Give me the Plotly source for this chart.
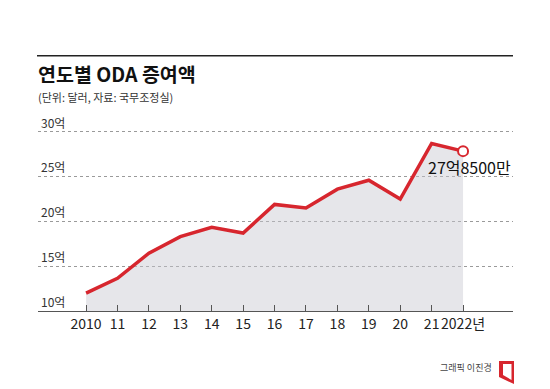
import plotly.graph_objects as go

# ---- data ----
years = [2010, 2011, 2012, 2013, 2014, 2015, 2016, 2017, 2018, 2019, 2020, 2021, 2022]
oda_eok = [12.0, 13.65, 16.45, 18.3, 19.35, 18.7, 21.9, 21.5, 23.6, 24.6, 22.5, 28.7, 27.85]
x_tick_labels = ["2010", "11", "12", "13", "14", "15", "16", "17", "18", "19", "20", "21", "2022년"]
y_tick_vals = [10, 15, 20, 25, 30]
y_tick_labels = ["10억", "15억", "20억", "25억", "30억"]

title_text = "연도별 ODA 증여액"
subtitle_text = "(단위: 달러, 자료: 국무조정실)"
credit_text = "그래픽 이진경"

# ---- layout geometry ----
W, H = 550, 389
ML, MR, MT, MB = 38, 37, 105, 78
PW = W - ML - MR
PH = H - MT - MB

def px_x(p):
    return (p - ML) / PW

def px_y(p):
    return (H - MB - p) / PH

RED = "#d7262e"
FONT = "Noto Sans CJK KR"

last_val = oda_eok[-1]
eok = int(last_val)
man = int(round((last_val - eok) * 10000))
last_label = f"{eok}억{man}만"

fig = go.Figure()
fig.add_trace(go.Scatter(
    x=years, y=oda_eok, mode="lines",
    line=dict(color=RED, width=3.5),
    fill="tozeroy", fillcolor="rgba(200,200,208,0.45)",
    hoverinfo="skip", showlegend=False,
))
fig.add_trace(go.Scatter(
    x=[years[-1]], y=[oda_eok[-1]], mode="markers",
    marker=dict(size=10, color="white", line=dict(color=RED, width=2)),
    hoverinfo="skip", showlegend=False,
))

fig.update_layout(
    width=W, height=H,
    margin=dict(l=ML, r=MR, t=MT, b=MB, autoexpand=False),
    paper_bgcolor="white", plot_bgcolor="white",
    font=dict(family=FONT, color="#222"),
    xaxis=dict(
        range=[2008.47, 2023.59],
        tickvals=years, ticktext=x_tick_labels, tickangle=0,
        ticks="inside", ticklen=6, tickcolor="#555", tickwidth=1,
        showline=True, linecolor="#555", linewidth=1,
        showgrid=False, zeroline=False, automargin=False,
        tickfont=dict(size=14, color="#222", family=FONT),
    ),
    yaxis=dict(
        range=[10, 33],
        tickvals=y_tick_vals, ticktext=y_tick_labels,
        ticklabelposition="inside top", automargin=False,
        showgrid=True, gridcolor="#9a9a9a", griddash="dot", gridwidth=1,
        zeroline=False, showline=False, ticks="",
        tickfont=dict(size=12, color="#333", family=FONT),
    ),
)

annotations = [
    dict(text=f"<b>{title_text}</b>", xref="paper", yref="paper",
         x=px_x(36), y=px_y(73), xanchor="left", yanchor="middle",
         showarrow=False, font=dict(size=19.5, color="#111", family=FONT)),
    dict(text=subtitle_text, xref="paper", yref="paper",
         x=px_x(36), y=px_y(97), xanchor="left", yanchor="middle",
         showarrow=False, font=dict(size=11, color="#333", family=FONT)),
    dict(text=last_label, xref="x", yref="y",
         x=years[-1], y=oda_eok[-1], xshift=6, yshift=-16,
         xanchor="center", yanchor="middle",
         showarrow=False, font=dict(size=16, color="#111", family=FONT)),
    dict(text=credit_text, xref="paper", yref="paper",
         x=px_x(494), y=px_y(367), xanchor="right", yanchor="middle",
         showarrow=False, font=dict(size=9, color="#444", family=FONT)),
]
fig.update_layout(annotations=annotations)

# top rule
fig.add_shape(type="line", xref="paper", yref="paper",
              x0=px_x(37), x1=px_x(513), y0=px_y(55.7), y1=px_y(55.7),
              line=dict(color="#222", width=1.5))

# logo (open-door shape)
def P(x, y):
    return f"{px_x(x)},{px_y(y)}"

logo_path = (f"M {P(499,361)} L {P(514,361)} L {P(514,384)} L {P(499,377)} Z "
             f"M {P(503,364)} L {P(511.5,364)} L {P(511.5,380)} L {P(503,375)} Z")
fig.add_shape(type="path", xref="paper", yref="paper", path=logo_path,
              fillcolor=RED, line=dict(width=0), fillrule="evenodd")

fig.write_html("out.html",
               config={"displayModeBar": False, "staticPlot": True},
               post_script="document.body.style.margin='0';document.body.style.padding='0';")
